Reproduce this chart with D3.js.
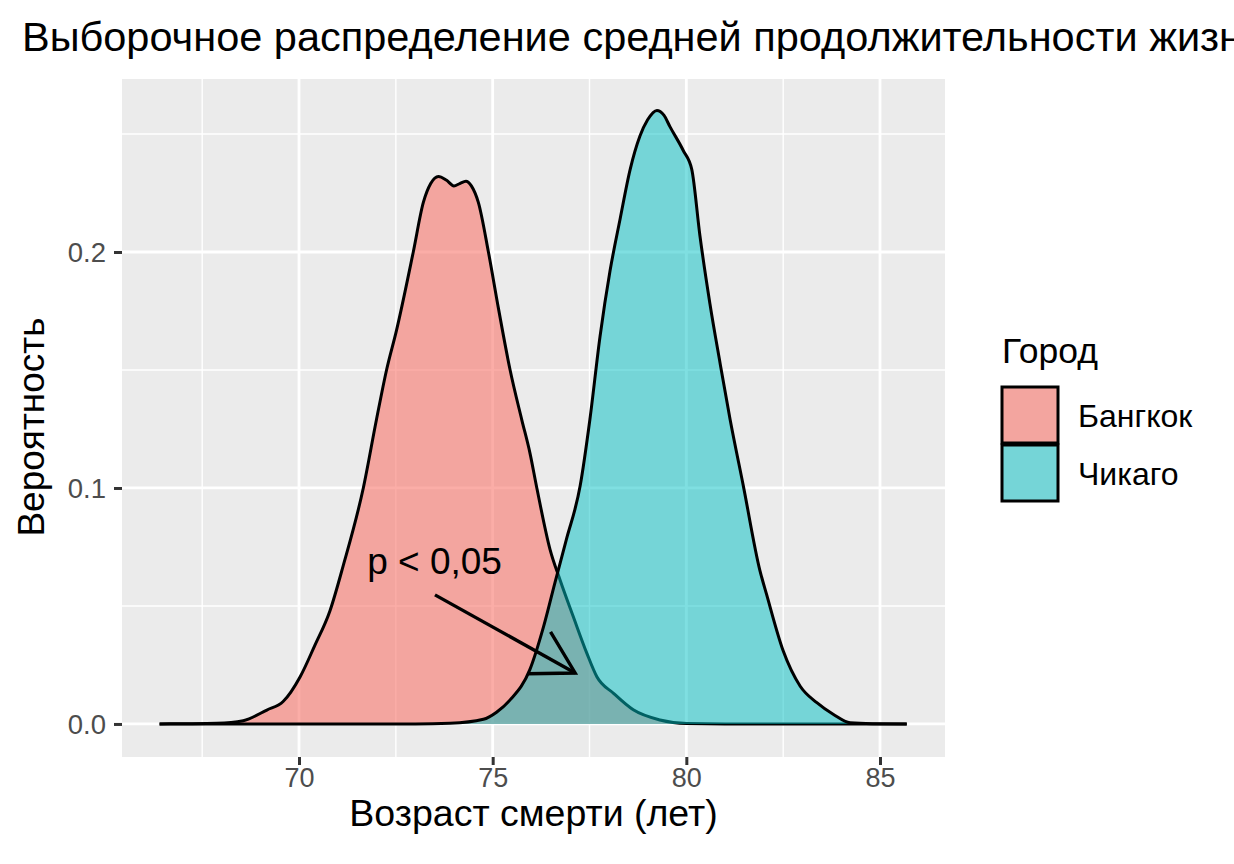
<!DOCTYPE html>
<html>
<head>
<meta charset="utf-8">
<script src="https://cdn.jsdelivr.net/npm/d3@7"></script>
<style>
  html, body { margin: 0; padding: 0; background: #fff; overflow: hidden; }
  text { font-family: "Liberation Sans", Arial, sans-serif; }
</style>
</head>
<body>
<div id="chart"></div>
<script>
// density: Bangkok
var bangkokAge = [66.40, 67.00, 67.88, 68.56, 69.17, 69.59, 70.03, 70.40, 70.80, 71.14, 71.66, 72.00, 72.26, 72.52, 72.95, 73.21, 73.40, 73.60, 73.80, 74.00, 74.15, 74.31, 74.45, 74.63, 74.89, 75.15, 75.45, 75.75, 75.96, 76.14, 76.48, 76.74, 77.08, 77.43, 77.69, 78.12, 78.63, 79.32, 80.01, 81.00, 85.69];
var bangkokDens = [0, 0.0001, 0.0003, 0.0014, 0.0059, 0.0095, 0.020, 0.033, 0.048, 0.067, 0.100, 0.129, 0.150, 0.167, 0.200, 0.221, 0.229, 0.232, 0.2305, 0.228, 0.229, 0.230, 0.228, 0.221, 0.200, 0.176, 0.150, 0.129, 0.115, 0.100, 0.074, 0.061, 0.0455, 0.030, 0.020, 0.013, 0.006, 0.0017, 0.0002, 0, 0];

// Chicago
var chicagoAge = [66.40, 73.00, 73.90, 74.76, 75.10, 75.45, 75.96, 76.31, 76.61, 76.90, 77.26, 77.51, 77.77, 78.03, 78.29, 78.55, 78.80, 79.00, 79.24, 79.42, 79.58, 79.92, 80.14, 80.35, 80.61, 80.87, 81.13, 81.47, 81.90, 82.07, 82.50, 82.94, 83.37, 83.80, 84.23, 84.80, 85.69];
var chicagoDens = [0, 0, 0.0003, 0.002, 0.005, 0.0102, 0.023, 0.041, 0.060, 0.078, 0.101, 0.129, 0.164, 0.192, 0.214, 0.235, 0.249, 0.256, 0.260, 0.258, 0.253, 0.243, 0.235, 0.207, 0.178, 0.153, 0.129, 0.101, 0.065, 0.055, 0.031, 0.016, 0.009, 0.004, 0.0005, 0.0001, 0];

var cities = ["Бангкок", "Чикаго"];
var cityColors = ["#F8766D", "#00BFC4"];
var cityAlpha = [0.6, 0.5];

var xMajor = [70, 75, 80, 85];
var xMinor = [67.5, 72.5, 77.5, 82.5];
var yMajor = [0, 0.1, 0.2];
var yMinor = [0.05, 0.15, 0.25];
var yTickLabels = ["0.0", "0.1", "0.2"];

// annotation: label position and arrow from/to (data units)
var noteText = "p < 0,05";
var notePos = [71.76, 0.0637];
var arrowFrom = [73.51, 0.0547];
var arrowTo = [77.13, 0.0216];

var W = 1234, H = 864;
var panel = { left: 122, right: 945, top: 79, bottom: 757 };

var svg = d3.select("#chart").append("svg")
    .attr("width", W)
    .attr("height", H);

var x = d3.scaleLinear().domain([65.43, 86.678]).range([panel.left, panel.right]);
var y = d3.scaleLinear().domain([-0.0140, 0.2733]).range([panel.bottom, panel.top]);

svg.append("rect")
    .attr("x", panel.left).attr("y", panel.top)
    .attr("width", panel.right - panel.left).attr("height", panel.bottom - panel.top)
    .attr("fill", "#ebebeb");

var grid = svg.append("g");
grid.selectAll(".vminor").data(xMinor).enter().append("line")
    .attr("x1", d => x(d)).attr("x2", d => x(d))
    .attr("y1", panel.top).attr("y2", panel.bottom)
    .attr("stroke", "#fff").attr("stroke-width", 1.4);
grid.selectAll(".hminor").data(yMinor).enter().append("line")
    .attr("y1", d => y(d)).attr("y2", d => y(d))
    .attr("x1", panel.left).attr("x2", panel.right)
    .attr("stroke", "#fff").attr("stroke-width", 1.4);
grid.selectAll(".vmajor").data(xMajor).enter().append("line")
    .attr("x1", d => x(d)).attr("x2", d => x(d))
    .attr("y1", panel.top).attr("y2", panel.bottom)
    .attr("stroke", "#fff").attr("stroke-width", 2.8);
grid.selectAll(".hmajor").data(yMajor).enter().append("line")
    .attr("y1", d => y(d)).attr("y2", d => y(d))
    .attr("x1", panel.left).attr("x2", panel.right)
    .attr("stroke", "#fff").attr("stroke-width", 2.8);

var series = [
    { age: bangkokAge, dens: bangkokDens },
    { age: chicagoAge, dens: chicagoDens }
];

var area = d3.area()
    .x(d => x(d[0]))
    .y0(y(0))
    .y1(d => y(d[1]))
    .curve(d3.curveMonotoneX);
var line = d3.line()
    .x(d => x(d[0]))
    .y(d => y(d[1]))
    .curve(d3.curveMonotoneX);

// ggplot order: fill then outline, group by group
series.forEach(function (s, i) {
    var pts = d3.zip(s.age, s.dens);
    svg.append("path")
        .attr("d", area(pts))
        .attr("fill", cityColors[i])
        .attr("fill-opacity", cityAlpha[i]);
    svg.append("path")
        .attr("d", line(pts))
        .attr("fill", "none")
        .attr("stroke", "#000")
        .attr("stroke-width", 3)
        .attr("stroke-linejoin", "round");
});

// annotation
svg.append("text")
    .attr("x", x(notePos[0])).attr("y", y(notePos[1]))
    .attr("font-size", 37)
    .attr("fill", "#000")
    .text(noteText);

var ax = x(arrowFrom[0]), ay = y(arrowFrom[1]);
var bx = x(arrowTo[0]), by = y(arrowTo[1]);
var ang = Math.atan2(ay - by, ax - bx);
var headLen = 48, headAng = Math.PI / 6;
svg.append("line")
    .attr("x1", ax).attr("y1", ay).attr("x2", bx).attr("y2", by)
    .attr("stroke", "#000").attr("stroke-width", 3.4);
svg.append("path")
    .attr("d", d3.line()([
        [bx + headLen * Math.cos(ang + headAng), by + headLen * Math.sin(ang + headAng)],
        [bx, by],
        [bx + headLen * Math.cos(ang - headAng), by + headLen * Math.sin(ang - headAng)]
    ]))
    .attr("fill", "none").attr("stroke", "#000").attr("stroke-width", 3.4)
    .attr("stroke-linejoin", "miter");

// axes
var xAxis = d3.axisBottom(x).tickValues(xMajor).tickSize(8);
var gx = svg.append("g").attr("transform", "translate(0," + panel.bottom + ")").call(xAxis);
gx.select(".domain").remove();
gx.selectAll(".tick line").attr("stroke", "#333").attr("stroke-width", 3);
gx.selectAll(".tick text")
    .attr("y", 30).attr("dy", 0)
    .attr("font-size", 27).attr("fill", "#4d4d4d")
    .attr("font-family", "Liberation Sans, Arial, sans-serif");

var yAxis = d3.axisLeft(y).tickValues(yMajor).tickFormat((d, i) => yTickLabels[i]).tickSize(8);
var gy = svg.append("g").attr("transform", "translate(" + panel.left + ",0)").call(yAxis);
gy.select(".domain").remove();
gy.selectAll(".tick line").attr("stroke", "#333").attr("stroke-width", 3);
gy.selectAll(".tick text")
    .attr("x", -16).attr("dy", "0.35em")
    .attr("font-size", 27.5).attr("fill", "#4d4d4d")
    .attr("font-family", "Liberation Sans, Arial, sans-serif");

// titles
svg.append("text")
    .attr("x", 22).attr("y", 51)
    .attr("font-size", 41.5)
    .text("Выборочное распределение средней продолжительности жизни");

svg.append("text")
    .attr("x", (panel.left + panel.right) / 2).attr("y", 826)
    .attr("text-anchor", "middle")
    .attr("font-size", 37.5)
    .text("Возраст смерти (лет)");

svg.append("text")
    .attr("transform", "translate(44,427) rotate(-90)")
    .attr("text-anchor", "middle")
    .attr("font-size", 37)
    .text("Вероятность");

// legend
var lg = svg.append("g").attr("transform", "translate(1002,0)");
lg.append("text").attr("x", 0).attr("y", 363).attr("font-size", 35.5).text("Город");
var keys = lg.selectAll(".key").data(cities).enter().append("g")
    .attr("transform", (d, i) => "translate(0," + (387 + i * 58) + ")");
keys.append("rect").attr("width", 56).attr("height", 56).attr("fill", "#ebebeb");
keys.append("rect").attr("width", 56).attr("height", 56)
    .attr("fill", (d, i) => cityColors[i])
    .attr("fill-opacity", (d, i) => cityAlpha[i])
    .attr("stroke", "#000").attr("stroke-width", 3);
keys.append("text").attr("x", 76).attr("y", 40).attr("font-size", 32).text(d => d);
</script>
</body>
</html>
